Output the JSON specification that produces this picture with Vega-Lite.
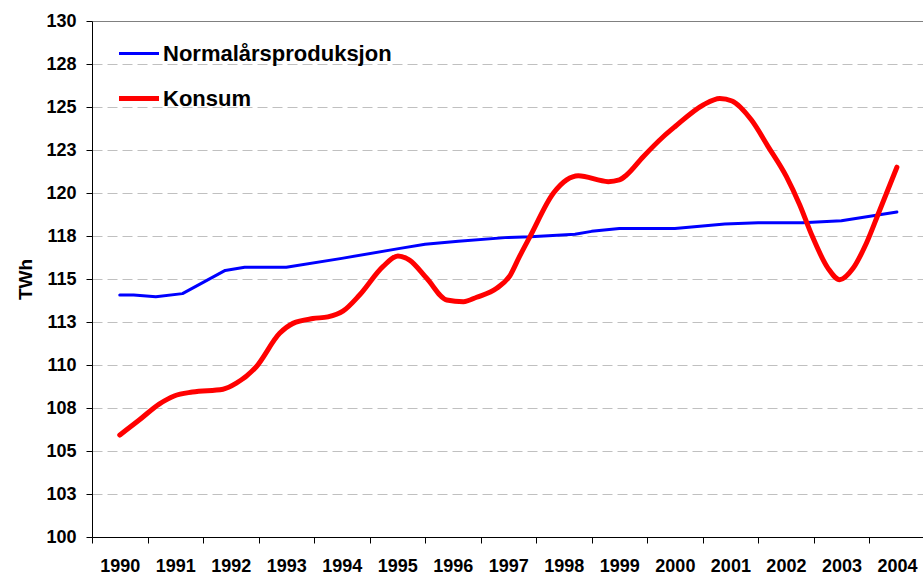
{
  "$schema": "https://vega.github.io/schema/vega-lite/v6.json",
  "autosize": "none",
  "width": 831,
  "height": 516,
  "padding": {"left": 92, "top": 21, "right": 0, "bottom": 39},
  "background": "white",
  "config": {
    "view": {"stroke": null},
    "font": "Liberation Sans",
    "axis": {"labelFont": "Liberation Sans", "titleFont": "Liberation Sans", "labelColor": "black", "titleColor": "black"},
    "legend": {"labelFont": "Liberation Sans"}
  },
  "data": {
    "values": [
      {"series": "Normalårsproduksjon", "t": 1990.0, "v": 114.07},
      {"series": "Normalårsproduksjon", "t": 1990.25, "v": 114.07},
      {"series": "Normalårsproduksjon", "t": 1990.65, "v": 113.97},
      {"series": "Normalårsproduksjon", "t": 1991.13, "v": 114.15},
      {"series": "Normalårsproduksjon", "t": 1991.9, "v": 115.5},
      {"series": "Normalårsproduksjon", "t": 1992.25, "v": 115.68},
      {"series": "Normalårsproduksjon", "t": 1993.0, "v": 115.68},
      {"series": "Normalårsproduksjon", "t": 1994.0, "v": 116.2},
      {"series": "Normalårsproduksjon", "t": 1995.05, "v": 116.78},
      {"series": "Normalårsproduksjon", "t": 1995.5, "v": 117.02},
      {"series": "Normalårsproduksjon", "t": 1996.1, "v": 117.2},
      {"series": "Normalårsproduksjon", "t": 1997.0, "v": 117.42},
      {"series": "Normalårsproduksjon", "t": 1997.4, "v": 117.45},
      {"series": "Normalårsproduksjon", "t": 1998.2, "v": 117.6},
      {"series": "Normalårsproduksjon", "t": 1998.5, "v": 117.77},
      {"series": "Normalårsproduksjon", "t": 1999.0, "v": 117.93},
      {"series": "Normalårsproduksjon", "t": 2000.0, "v": 117.93},
      {"series": "Normalårsproduksjon", "t": 2000.9, "v": 118.2},
      {"series": "Normalårsproduksjon", "t": 2001.5, "v": 118.27},
      {"series": "Normalårsproduksjon", "t": 2002.3, "v": 118.27},
      {"series": "Normalårsproduksjon", "t": 2003.0, "v": 118.39},
      {"series": "Normalårsproduksjon", "t": 2004.0, "v": 118.9},
      {"series": "Konsum", "t": 1990.0, "v": 105.93},
      {"series": "Konsum", "t": 1990.35, "v": 106.8},
      {"series": "Konsum", "t": 1990.71, "v": 107.73},
      {"series": "Konsum", "t": 1990.98, "v": 108.2},
      {"series": "Konsum", "t": 1991.31, "v": 108.43},
      {"series": "Konsum", "t": 1991.86, "v": 108.59},
      {"series": "Konsum", "t": 1992.1, "v": 108.94},
      {"series": "Konsum", "t": 1992.46, "v": 109.9},
      {"series": "Konsum", "t": 1992.88, "v": 111.84},
      {"series": "Konsum", "t": 1993.12, "v": 112.42},
      {"series": "Konsum", "t": 1993.48, "v": 112.7},
      {"series": "Konsum", "t": 1993.75, "v": 112.8},
      {"series": "Konsum", "t": 1994.02, "v": 113.13},
      {"series": "Konsum", "t": 1994.32, "v": 114.07},
      {"series": "Konsum", "t": 1994.74, "v": 115.72},
      {"series": "Konsum", "t": 1995.01, "v": 116.34},
      {"series": "Konsum", "t": 1995.22, "v": 116.1},
      {"series": "Konsum", "t": 1995.53, "v": 115.04},
      {"series": "Konsum", "t": 1995.89, "v": 113.78},
      {"series": "Konsum", "t": 1996.19, "v": 113.68},
      {"series": "Konsum", "t": 1996.43, "v": 113.94},
      {"series": "Konsum", "t": 1996.79, "v": 114.46},
      {"series": "Konsum", "t": 1997.03, "v": 115.2},
      {"series": "Konsum", "t": 1997.2, "v": 116.3},
      {"series": "Konsum", "t": 1997.39, "v": 117.46},
      {"series": "Konsum", "t": 1997.81, "v": 119.98},
      {"series": "Konsum", "t": 1998.05, "v": 120.76},
      {"series": "Konsum", "t": 1998.26, "v": 121.0},
      {"series": "Konsum", "t": 1998.8, "v": 120.66},
      {"series": "Konsum", "t": 1999.0, "v": 120.76},
      {"series": "Konsum", "t": 1999.13, "v": 121.05},
      {"series": "Konsum", "t": 1999.43, "v": 122.11},
      {"series": "Konsum", "t": 1999.79, "v": 123.27},
      {"series": "Konsum", "t": 2000.0, "v": 123.85},
      {"series": "Konsum", "t": 2000.51, "v": 125.12},
      {"series": "Konsum", "t": 2000.81, "v": 125.5},
      {"series": "Konsum", "t": 2001.03, "v": 125.35},
      {"series": "Konsum", "t": 2001.38, "v": 124.24},
      {"series": "Konsum", "t": 2001.68, "v": 122.7},
      {"series": "Konsum", "t": 2002.01, "v": 120.95},
      {"series": "Konsum", "t": 2002.25, "v": 119.3},
      {"series": "Konsum", "t": 2002.46, "v": 117.6},
      {"series": "Konsum", "t": 2002.76, "v": 115.62},
      {"series": "Konsum", "t": 2002.97, "v": 114.96},
      {"series": "Konsum", "t": 2003.21, "v": 115.62},
      {"series": "Konsum", "t": 2003.45, "v": 117.08},
      {"series": "Konsum", "t": 2003.69, "v": 119.0},
      {"series": "Konsum", "t": 2004.0, "v": 121.5}
    ]
  },
  "encoding": {
    "x": {
      "field": "t", "type": "quantitative",
      "scale": {"domain": [1989.5, 2004.47], "nice": false, "zero": false},
      "axis": {
        "title": null,
        "values": [1990, 1991, 1992, 1993, 1994, 1995, 1996, 1997, 1998, 1999, 2000, 2001, 2002, 2003, 2004],
        "format": "d",
        "grid": false,
        "tickOffset": -27.75,
        "labelOffset": 27.75,
        "tickSize": 6,
        "tickColor": "black",
        "domainColor": "black",
        "labelFontSize": 18,
        "labelFontWeight": "bold",
        "labelPadding": 14,
        "labelFlush": false,
        "labelOverlap": false
      }
    },
    "y": {
      "field": "v", "type": "quantitative",
      "scale": {"domain": [100, 130], "nice": false, "zero": false},
      "axis": {
        "title": "TWh",
        "titleFontSize": 19,
        "titleFontWeight": "bold",
        "titlePadding": 10,
        "values": [100, 102.5, 105, 107.5, 110, 112.5, 115, 117.5, 120, 122.5, 125, 127.5, 130],
        "format": ".0f",
        "tickSize": 6,
        "tickColor": "black",
        "domainColor": "black",
        "labelFontSize": 18,
        "labelFontWeight": "bold",
        "labelPadding": 10,
        "labelOverlap": false,
        "grid": true,
        "gridColor": {"condition": {"test": "datum.value === 130", "value": "#808080"}, "value": "#c0c0c0"},
        "gridDash": {"condition": {"test": "datum.value === 130", "value": []}, "value": [10, 5]},
        "gridWidth": 1
      }
    },
    "color": {
      "field": "series", "type": "nominal",
      "scale": {"domain": ["Normalårsproduksjon", "Konsum"], "range": ["#0000ff", "#ff0000"]},
      "legend": {
        "title": null,
        "orient": "none",
        "legendX": 26,
        "legendY": 21.5,
        "padding": 0,
        "symbolType": "stroke",
        "symbolSize": 1600,
        "symbolStrokeWidth": 3,
        "symbolOffset": 10,
        "labelFontSize": 22,
        "labelFontWeight": "bold",
        "labelColor": "black",
        "labelOffset": 13,
        "rowPadding": 23,
        "labelLimit": 400,
        "encode": {"symbols": {"update": {"strokeWidth": {"signal": "datum.value === 'Konsum' ? 5 : 3"}}}}
      }
    }
  },
  "layer": [
    {
      "transform": [{"filter": "datum.series === 'Normalårsproduksjon'"}],
      "mark": {"type": "line", "strokeWidth": 3, "strokeCap": "round", "strokeJoin": "round"}
    },
    {
      "transform": [{"filter": "datum.series === 'Konsum'"}],
      "mark": {"type": "line", "strokeWidth": 5, "strokeCap": "round", "strokeJoin": "round", "interpolate": "monotone"}
    }
  ]
}
